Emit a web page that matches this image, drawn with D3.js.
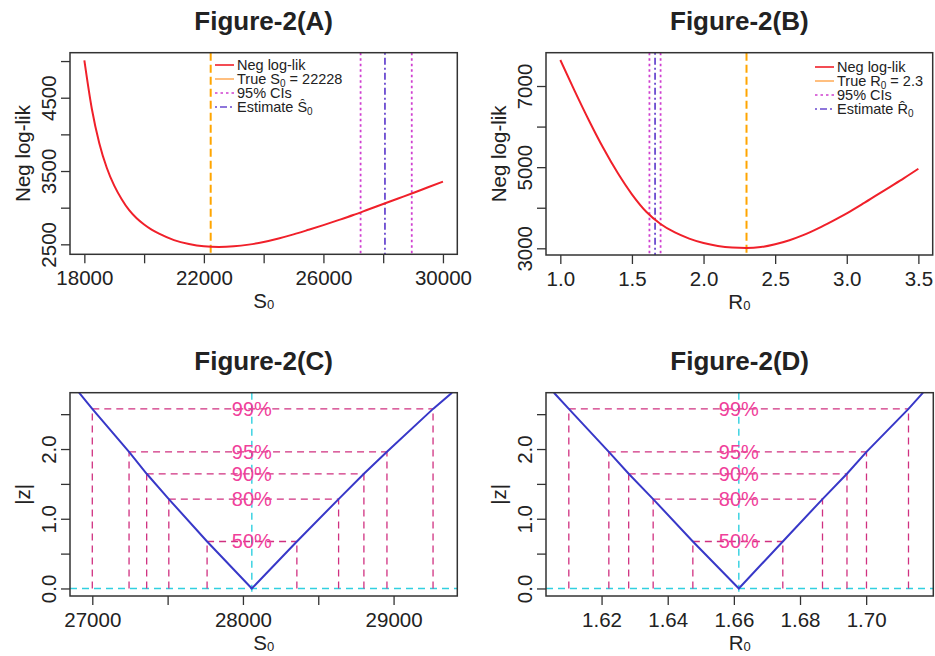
<!DOCTYPE html>
<html lang="en">
  <head>
    <meta charset="utf-8" />
    <title>Figure-2 profile likelihood</title>
    <script type="text/javascript" src="https://cdn.jsdelivr.net/npm/d3@7"></script>
    <style type="text/css">
      body {
        margin: 0;
        background: white;
      }
      svg text {
        font-family: "Liberation Sans", Arial, sans-serif;
        fill: #222;
      }
    </style>
  </head>
  <body>
    <script type="text/javascript">
      var w = 935;
      var h = 656;

      var titles = ["Figure-2(A)", "Figure-2(B)", "Figure-2(C)", "Figure-2(D)"];

      // panel A: neg log-lik over S0
      var s0Grid = [18000, 18250, 18500, 18750, 19000, 19250, 19500, 19750, 20000, 20250, 20500, 21000,
        21500, 22000, 22500, 23000, 23500, 24000, 24500, 25000, 25500, 26000, 26500, 27000, 27500,
        28000, 28500, 29000, 29500, 30000];
      var s0NegLL = [5010, 4350, 3880, 3545, 3300, 3115, 2965, 2855, 2770, 2700, 2645, 2558,
        2505, 2474, 2465, 2473, 2496, 2532, 2580, 2636, 2698, 2762, 2830, 2900, 2975,
        3050, 3125, 3200, 3278, 3355];
      var s0True = 22228;
      var s0Est = 28059;
      var s0CI = [27244, 28956];

      // panel B: neg log-lik over R0
      var r0Grid = [1.0, 1.1, 1.2, 1.3, 1.4, 1.5, 1.6, 1.7, 1.8, 1.9, 2.0, 2.1, 2.2, 2.3, 2.4,
        2.5, 2.6, 2.7, 2.8, 2.9, 3.0, 3.1, 3.2, 3.3, 3.4, 3.5];
      var r0NegLL = [7640, 6880, 6150, 5470, 4860, 4330, 3900, 3600, 3390, 3240, 3130, 3058, 3018, 3006, 3030,
        3100, 3200, 3330, 3490, 3670, 3860, 4070, 4290, 4510, 4730, 4960];
      var r0True = 2.3;
      var r0Est = 1.6615;
      var r0CI = [1.6222, 1.7001];

      // panels C, D: |z| with CI levels
      var ciLabels = ["50%", "80%", "90%", "95%", "99%"];
      var zLevels = [0.674, 1.282, 1.645, 1.96, 2.576];
      var zTop = 2.808;
      var s0Lower = [27762, 27508, 27361, 27244, 27000];
      var s0Upper = [28358, 28635, 28803, 28956, 29262];
      var s0Ends = [26912, 29388];
      var r0Lower = [1.6476, 1.6356, 1.6282, 1.6222, 1.6101];
      var r0Upper = [1.6748, 1.6868, 1.6942, 1.7001, 1.7128];
      var r0Ends = [1.6056, 1.7172];

      // ticks
      var aXTicks = [18000, 20000, 22000, 24000, 26000, 28000, 30000];
      var aXLabels = [18000, 22000, 26000, 30000];
      var aYTicks = [2500, 3000, 3500, 4000, 4500, 5000];
      var aYLabels = [2500, 3500, 4500];
      var bXTicks = [1.0, 1.5, 2.0, 2.5, 3.0, 3.5];
      var bYTicks = [3000, 4000, 5000, 6000, 7000];
      var bYLabels = [3000, 5000, 7000];
      var cXTicks = [27000, 27500, 28000, 28500, 29000];
      var cXLabels = [27000, 28000, 29000];
      var zTicks = [0, 0.5, 1.0, 1.5, 2.0, 2.5];
      var zLabels = [0, 1.0, 2.0];
      var dXTicks = [1.62, 1.64, 1.66, 1.68, 1.70];

      var svg = d3.select("body").append("svg").attr("width", w).attr("height", h);

      var panels = [
        { box: [70, 457.3, 52.7, 254.3], xd: [17520, 30480], yd: [2364, 5114] },
        { box: [546, 932.7, 52.7, 255], xd: [0.9, 3.6], yd: [2835, 7821] },
        { box: [70, 457.3, 392.7, 596], xd: [26852, 29423], yd: [-0.108, 2.808] },
        { box: [546, 933.3, 392.7, 596], xd: [1.6032, 1.7203], yd: [-0.108, 2.808] }
      ];

      function setup(i, xTicks, xLabels, xFmt, yTicks, yLabels, yFmt, xName, yName) {
        var p = panels[i];
        var b = p.box;
        var x = d3.scaleLinear().domain(p.xd).range([b[0], b[1]]);
        var y = d3.scaleLinear().domain(p.yd).range([b[3], b[2]]);
        var g = svg.append("g");

        g.append("clipPath").attr("id", "clip" + i)
          .append("rect").attr("x", b[0]).attr("y", b[2])
          .attr("width", b[1] - b[0]).attr("height", b[3] - b[2]);

        var plot = g.append("g").attr("clip-path", "url(#clip" + i + ")");

        //x axis
        var xa = g.append("g").attr("transform", "translate(0," + b[3] + ")")
          .call(d3.axisBottom(x).tickValues(xTicks).tickSize(9).tickSizeOuter(0)
            .tickFormat(function (d) { return xLabels.indexOf(d) >= 0 ? xFmt(d) : ""; }));
        xa.select(".domain").remove();
        xa.selectAll("line").attr("stroke", "#333").attr("stroke-width", 1.3);
        xa.selectAll("text").attr("y", 24).attr("dy", "0.35em")
          .style("font-size", "20.5px").style("font-family", "Liberation Sans, Arial, sans-serif")
          .attr("fill", "#222");

        //y axis, labels rotated like R
        var ya = g.append("g").attr("transform", "translate(" + b[0] + ",0)")
          .call(d3.axisLeft(y).tickValues(yTicks).tickSize(9).tickSizeOuter(0)
            .tickFormat(function (d) { return yLabels.indexOf(d) >= 0 ? yFmt(d) : ""; }));
        ya.select(".domain").remove();
        ya.selectAll("line").attr("stroke", "#333").attr("stroke-width", 1.3);
        ya.selectAll("text").attr("x", 0).attr("dy", null).attr("text-anchor", "middle")
          .attr("dominant-baseline", "central")
          .attr("transform", "translate(-22,0) rotate(-90)")
          .style("font-size", "20.5px").style("font-family", "Liberation Sans, Arial, sans-serif")
          .attr("fill", "#222");

        g.append("rect").attr("x", b[0]).attr("y", b[2])
          .attr("width", b[1] - b[0]).attr("height", b[3] - b[2])
          .attr("fill", "none").attr("stroke", "#333").attr("stroke-width", 1.5);

        //title
        g.append("text").attr("x", (b[0] + b[1]) / 2).attr("y", b[2] - 23)
          .attr("text-anchor", "middle").style("font-size", "26px").style("font-weight", "bold")
          .text(titles[i]);

        //axis names
        var xt = g.append("text").attr("x", (b[0] + b[1]) / 2).attr("y", b[3] + 46)
          .attr("text-anchor", "middle").attr("dominant-baseline", "central")
          .style("font-size", "20.5px");
        xt.append("tspan").text(xName);
        xt.append("tspan").attr("dy", 4).style("font-size", "13px").text("0");

        g.append("text").attr("transform", "translate(" + (b[0] - 48) + "," + (b[2] + b[3]) / 2 + ") rotate(-90)")
          .attr("text-anchor", "middle").attr("dominant-baseline", "central")
          .style("font-size", "20.5px").text(yName);

        return { x: x, y: y, plot: plot, g: g, box: b };
      }

      function vline(p, v, color, dash, width) {
        p.plot.append("line")
          .attr("x1", p.x(v)).attr("x2", p.x(v))
          .attr("y1", p.box[2]).attr("y2", p.box[3])
          .attr("stroke", color).attr("stroke-width", width)
          .attr("stroke-dasharray", dash);
      }

      function likPanel(p, grid, vals, trueV, ciV, estV, legendX, legendY, sym, trueText) {
        var line = d3.line()
          .x(function (d) { return p.x(d[0]); })
          .y(function (d) { return p.y(d[1]); })
          .curve(d3.curveMonotoneX);

        vline(p, trueV, "#ffa500", "8,4", 2);
        ciV.forEach(function (c) { vline(p, c, "#d040d0", "2.5,3", 1.8); });
        vline(p, estV, "#6a4ad0", "2,3,7,3", 1.8);

        p.plot.append("path")
          .datum(d3.zip(grid, vals))
          .attr("d", line)
          .attr("fill", "none")
          .attr("stroke", "#f0202a")
          .attr("stroke-width", 2);

        var items = [
          { c: "#f0202a", dash: null, t: ["Neg log-lik"] },
          { c: "#ffb060", dash: null, t: ["True " + sym, "0", " = " + trueText] },
          { c: "#d040d0", dash: "2.5,3", t: ["95% CIs"] },
          { c: "#6a4ad0", dash: "2,3,7,3", t: ["Estimate " + (sym === "S" ? "\u015C" : "R\u0302"), "0"] }
        ];
        items.forEach(function (it, k) {
          var yy = legendY + k * 14;
          p.g.append("line").attr("x1", legendX - 22).attr("x2", legendX - 3)
            .attr("y1", yy).attr("y2", yy).attr("stroke", it.c).attr("stroke-width", 1.6)
            .attr("stroke-dasharray", it.dash);
          var t = p.g.append("text").attr("x", legendX).attr("y", yy)
            .attr("dominant-baseline", "central").style("font-size", "14.5px");
          t.append("tspan").text(it.t[0]);
          if (it.t.length > 1) {
            t.append("tspan").attr("dy", 4).style("font-size", "10px").text(it.t[1]);
          }
          if (it.t.length > 2) {
            t.append("tspan").attr("dy", -4).text(it.t[2]);
          }
        });
      }

      function zPanel(p, lower, upper, est, ends) {
        var pts = [[ends[0], zTop]];
        for (var k = lower.length - 1; k >= 0; k--) pts.push([lower[k], zLevels[k]]);
        pts.push([est, 0]);
        for (var k = 0; k < upper.length; k++) pts.push([upper[k], zLevels[k]]);
        pts.push([ends[1], zTop]);

        //cyan reference lines
        p.plot.append("line").attr("x1", p.box[0]).attr("x2", p.box[1])
          .attr("y1", p.y(0)).attr("y2", p.y(0))
          .attr("stroke", "#30d0e0").attr("stroke-width", 1.4).attr("stroke-dasharray", "7,5");
        vline(p, est, "#30d0e0", "7,5", 1.4);

        var lv = d3.range(zLevels.length);
        p.plot.selectAll(".hl").data(lv).enter().append("line")
          .attr("x1", function (k) { return p.x(lower[k]); })
          .attr("x2", function (k) { return p.x(upper[k]); })
          .attr("y1", function (k) { return p.y(zLevels[k]); })
          .attr("y2", function (k) { return p.y(zLevels[k]); })
          .attr("stroke", "#d03080").attr("stroke-width", 1.3).attr("stroke-dasharray", "7,5");

        lv.forEach(function (k) {
          [lower[k], upper[k]].forEach(function (v) {
            p.plot.append("line")
              .attr("x1", p.x(v)).attr("x2", p.x(v))
              .attr("y1", p.y(0)).attr("y2", p.y(zLevels[k]))
              .attr("stroke", "#d03080").attr("stroke-width", 1.3).attr("stroke-dasharray", "7,5");
          });
        });

        p.plot.append("path").datum(pts)
          .attr("d", d3.line().x(function (d) { return p.x(d[0]); }).y(function (d) { return p.y(d[1]); }))
          .attr("fill", "none").attr("stroke", "#3838c8").attr("stroke-width", 2);

        p.plot.selectAll(".lab").data(lv).enter().append("text")
          .attr("x", p.x(est)).attr("y", function (k) { return p.y(zLevels[k]); })
          .attr("text-anchor", "middle").attr("dominant-baseline", "central")
          .style("font-size", "20px").style("fill", "#f0409a")
          .text(function (k) { return ciLabels[k]; });
      }

      var fInt = d3.format("d");
      var f1 = d3.format(".1f");
      var f2 = d3.format(".2f");

      var pA = setup(0, aXTicks, aXLabels, fInt, aYTicks, aYLabels, fInt, "S", "Neg log-lik");
      likPanel(pA, s0Grid, s0NegLL, s0True, s0CI, s0Est, 237, 65, "S", "22228");

      var pB = setup(1, bXTicks, bXTicks, f1, bYTicks, bYLabels, fInt, "R", "Neg log-lik");
      likPanel(pB, r0Grid, r0NegLL, r0True, r0CI, r0Est, 837, 67, "R", "2.3");

      var pC = setup(2, cXTicks, cXLabels, fInt, zTicks, zLabels, f1, "S", "|z|");
      zPanel(pC, s0Lower, s0Upper, s0Est, s0Ends);

      var pD = setup(3, dXTicks, dXTicks, f2, zTicks, zLabels, f1, "R", "|z|");
      zPanel(pD, r0Lower, r0Upper, r0Est, r0Ends);
    </script>
  </body>
</html>
